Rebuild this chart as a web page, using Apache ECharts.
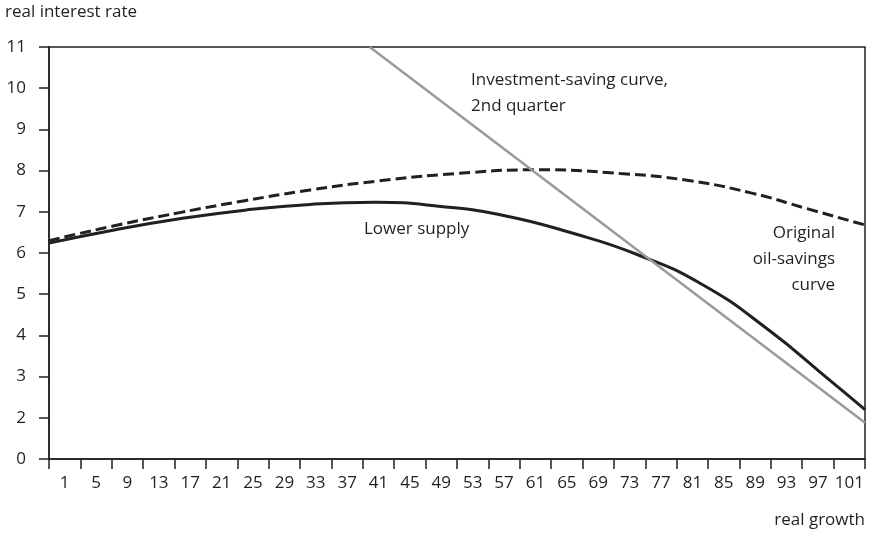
<!DOCTYPE html>
<html>
<head>
<meta charset="utf-8">
<script src="https://cdn.jsdelivr.net/npm/echarts@6/dist/echarts.min.js"></script>
<style>
  html, body { margin: 0; padding: 0; background: #fff; }
  #chart { width: 871px; height: 533px; }
</style>
</head>
<body>
<div id="chart"></div>
<script>
// x tick labels (one per group of 4 periods)
const xLabels = ["1", "5", "9", "13", "17", "21", "25", "29", "33", "37", "41", "45", "49",
  "53", "57", "61", "65", "69", "73", "77", "81", "85", "89", "93", "97", "101"];

// original oil-savings curve
const originalPeriods = [1, 9, 17, 25, 33, 41, 51, 61, 71, 79, 87, 94, 101];
const originalRates = [6.3, 6.66, 6.98, 7.27, 7.53, 7.74, 7.93, 8.02, 7.93, 7.77, 7.46, 7.07, 6.68];

// lower supply curve
const lowerPeriods = [1, 9, 17, 25, 33, 41, 49, 57, 65, 73, 81, 89, 97, 101];
const lowerRates = [6.24, 6.56, 6.83, 7.04, 7.18, 7.23, 7.13, 6.9, 6.49, 5.97, 5.24, 4.16, 2.86, 2.2];

// straight investment-saving line: [period, rate] at its two ends
const investmentSaving = [[40.3, 11], [101, 1.88]];

const ink = "#231f20";
const font = "Open Sans";

const pair = (xs, ys) => xs.map((p, i) => [p, ys[i]]);

const chart = echarts.init(document.getElementById("chart"));

chart.setOption({
  animation: false,
  textStyle: { fontFamily: font },
  grid: {
    left: 49, right: 6, top: 47, bottom: 74,
    show: true, borderColor: ink, borderWidth: 1.5
  },
  xAxis: [
    {
      type: "category",
      data: xLabels,
      boundaryGap: true,
      axisLine: { lineStyle: { color: ink, width: 1.5 } },
      axisTick: { show: true, interval: 0, length: 10, lineStyle: { color: ink, width: 1.5 } },
      axisLabel: { interval: 0, margin: 16, color: ink, fontSize: 17, fontFamily: font },
      splitLine: { show: false }
    },
    {
      type: "value",
      min: 1, max: 101,
      show: false,
      splitLine: { show: false }
    }
  ],
  yAxis: {
    type: "value",
    min: 1, max: 11, interval: 1,
    axisLine: { show: true, lineStyle: { color: ink, width: 1.5 } },
    axisTick: { show: true, length: 10, lineStyle: { color: ink, width: 1.5 } },
    axisLabel: {
      margin: 23, color: ink, fontSize: 17, fontFamily: font,
      formatter: (v) => (v === 1 ? "0" : String(v))
    },
    splitLine: { show: false }
  },
  series: [
    {
      name: "Original oil-savings curve",
      type: "line",
      xAxisIndex: 1,
      data: pair(originalPeriods, originalRates),
      smooth: 0.5,
      symbol: "none",
      lineStyle: { color: ink, width: 3, type: [11, 5] }
    },
    {
      name: "Lower supply",
      type: "line",
      xAxisIndex: 1,
      data: pair(lowerPeriods, lowerRates),
      smooth: 0.5,
      symbol: "none",
      lineStyle: { color: ink, width: 3 }
    },
    {
      name: "Investment-saving curve, 2nd quarter",
      type: "line",
      xAxisIndex: 1,
      data: investmentSaving,
      symbol: "none",
      lineStyle: { color: "#9a9a9a", width: 2.5 }
    }
  ],
  graphic: [
    { type: "text", left: 5, top: 4,
      style: { text: "real interest rate", fill: ink, font: "17px " + font } },
    { type: "text", right: 6, top: 512,
      style: { text: "real growth", fill: ink, font: "17px " + font } },
    { type: "text", left: 471, top: 67,
      style: { text: "Investment-saving curve,\n2nd quarter", fill: ink, font: "17px " + font, lineHeight: 26 } },
    { type: "text", left: 364, top: 221,
      style: { text: "Lower supply", fill: ink, font: "17px " + font } },
    { type: "text", right: 36, top: 225,
      style: { text: "Original", fill: ink, font: "17px " + font } },
    { type: "text", right: 36, top: 251,
      style: { text: "oil-savings", fill: ink, font: "17px " + font } },
    { type: "text", right: 36, top: 277,
      style: { text: "curve", fill: ink, font: "17px " + font } }
  ]
});
</script>
</body>
</html>
